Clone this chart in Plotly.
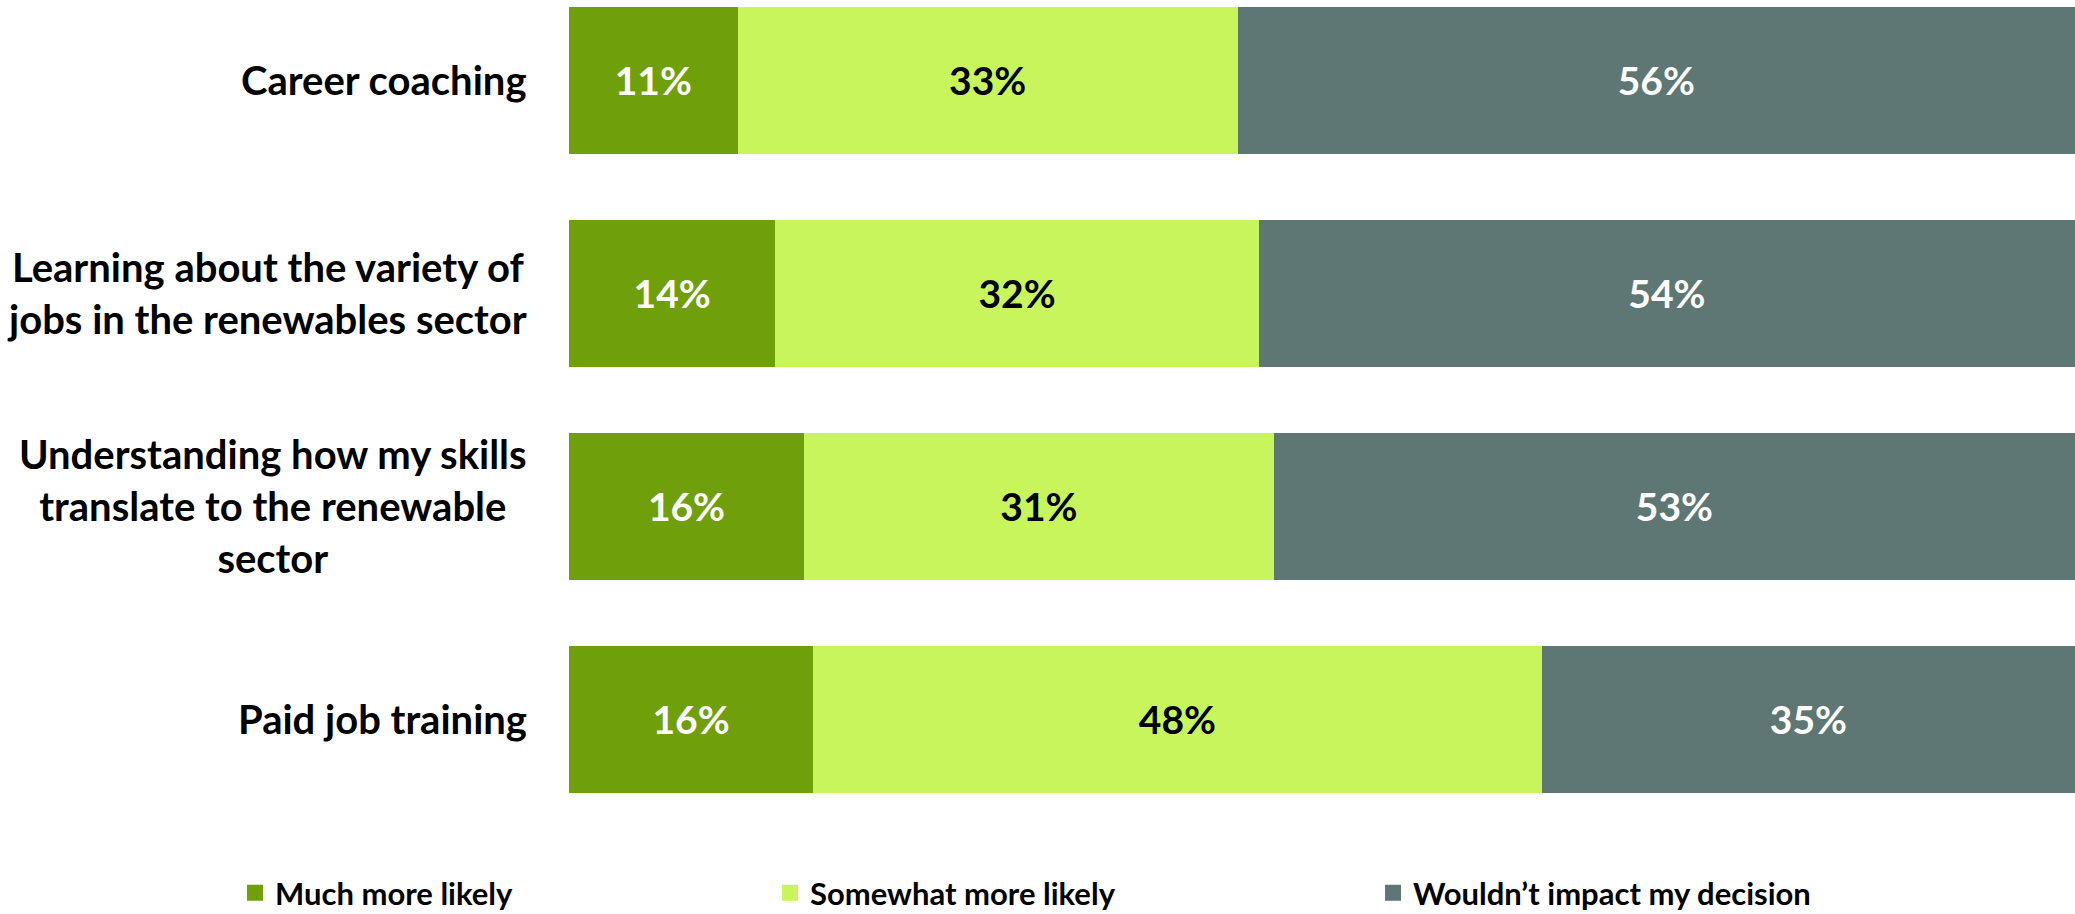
import plotly.graph_objects as go

categories = ["Career coaching",
              "Learning about the variety of<br>jobs in the renewables sector",
              "Understanding how my skills<br>translate to the renewable<br>sector",
              "Paid job training"]
series_names = ["Much more likely", "Somewhat more likely", "Wouldn\u2019t impact my decision"]
much_more = [11.2, 13.7, 15.6, 16.2]
somewhat_more = [33.2, 32.1, 31.2, 48.4]
no_impact = [55.6, 54.2, 53.2, 35.4]

colors = ["#6FA00B", "#C8F55B", "#5E7774"]
text_colors = ["white", "black", "white"]
legend_ids = ["legend", "legend2", "legend3"]
cat_ids = ["c0", "c1", "c2", "c3"]

FONT = "Lato"
fig = go.Figure()
for name, vals, col, tcol, lg in zip(series_names, [much_more, somewhat_more, no_impact],
                                      colors, text_colors, legend_ids):
    fig.add_trace(go.Bar(
        y=cat_ids, x=vals, orientation="h", name=name,
        marker=dict(color=col, line=dict(width=0)),
        width=0.69,
        texttemplate="%{x:.0f}%", textposition="inside", insidetextanchor="middle",
        textfont=dict(family=FONT, size=39, color=tcol, weight="bold"),
        showlegend=False, hoverinfo="skip",
    ))
    fig.add_trace(go.Scatter(
        x=[None], y=[None], mode="markers", name=name,
        marker=dict(symbol="square", size=18, color=col),
        legend=lg, showlegend=True,
    ))

for cid, label in zip(cat_ids, categories):
    fig.add_annotation(x=0, xref="paper", y=cid, yref="y", text=label,
                       showarrow=False, xanchor="right", yanchor="middle",
                       xshift=-40, align="center",
                       font=dict(family=FONT, size=40, color="black", weight="bold"))

leg_font = dict(family=FONT, size=31, color="black", weight="bold")
legend_common = dict(orientation="h", yanchor="middle", y=-0.1165, xanchor="left",
                     font=leg_font, bgcolor="rgba(0,0,0,0)", itemclick=False)
fig.update_layout(
    barmode="stack",
    width=2075, height=914,
    margin=dict(l=569, r=0, t=0, b=114, autoexpand=False),
    plot_bgcolor="white", paper_bgcolor="white",
    xaxis=dict(range=[0, 100], visible=False, fixedrange=True),
    yaxis=dict(type="category", categoryarray=cat_ids, range=[3.380, -0.3756],
               showticklabels=False, showgrid=False, zeroline=False, showline=False),
    legend=dict(x=-0.2218, **legend_common),
    legend2=dict(x=0.1335, **legend_common),
    legend3=dict(x=0.5339, **legend_common),
)

fig.write_html("out.html", config={"displayModeBar": False},
               post_script="document.body.style.margin='0px';document.body.style.overflow='hidden';")
